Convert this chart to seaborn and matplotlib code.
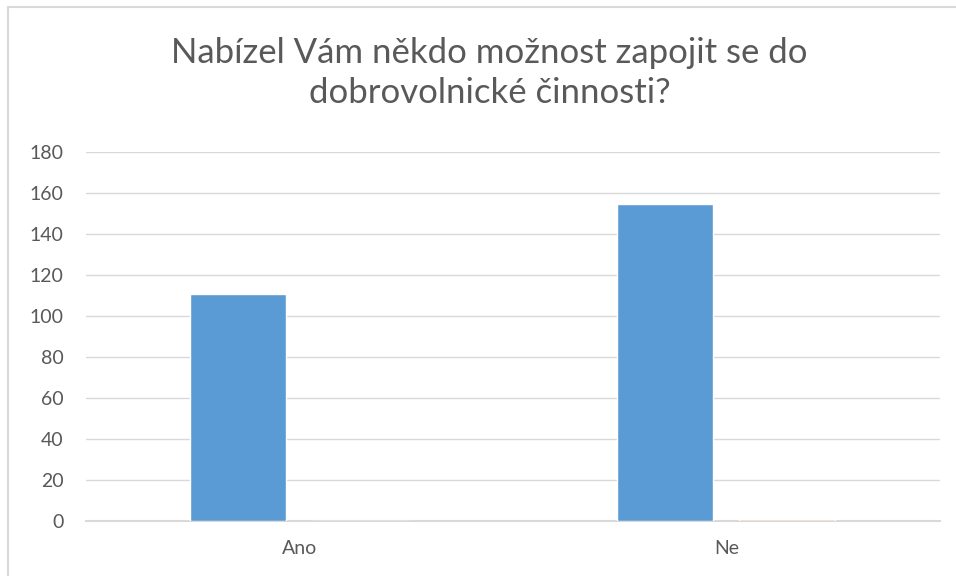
import matplotlib
matplotlib.use("Agg")
import matplotlib.pyplot as plt
import seaborn as sns
import pandas as pd
from matplotlib.patches import Rectangle

categories = ["Ano", "Ne"]
series_names = ["Řada 1", "Řada 2"]
series1 = [111, 155]
series2 = [0, 1]
yticks = [0, 20, 40, 60, 80, 100, 120, 140, 160, 180]
title = "Nabízel Vám někdo možnost zapojit se do\ndobrovolnické činnosti?"

df = pd.DataFrame({
    "kategorie": categories * 2,
    "rada": [series_names[0]] * 2 + [series_names[1]] * 2,
    "hodnota": series1 + series2,
})

sns.set_theme(style="white")
plt.rcParams["font.family"] = ["Lato", "DejaVu Sans"]

fig = plt.figure(figsize=(9.56, 5.76), dpi=100)
ax = fig.add_axes([0.09, 0.0955, 0.893, 0.640])

sns.barplot(data=df, x="kategorie", y="hodnota", hue="rada", order=categories,
            hue_order=series_names, palette=["#5B9BD5", "#F8CBAD"],
            width=0.572, gap=0.213, saturation=1, legend=False, ax=ax)
for p in ax.patches:
    p.set_zorder(3)

ax.set_ylim(0, 180)
ax.set_yticks(yticks)
ax.set_yticklabels([str(t) for t in yticks])
ax.set_xlim(-0.5, 1.5)
ax.yaxis.grid(True, color="#D9D9D9", linewidth=1)
ax.set_axisbelow(True)
for s in ["left", "right", "top"]:
    ax.spines[s].set_visible(False)
ax.spines["bottom"].set_color("#D9D9D9")
ax.spines["bottom"].set_linewidth(1.5)
ax.spines["bottom"].set_zorder(2)
ax.tick_params(axis="both", length=0, labelsize=14, colors="#595959")
ax.tick_params(axis="y", pad=16)
ax.tick_params(axis="x", pad=14)
ax.set_xlabel("")
ax.set_ylabel("")

fig.text(0.512, 0.873, title, ha="center", va="center", fontsize=25,
         color="#595959", linespacing=1.3)

fig.patches.append(Rectangle((0.0088, -0.05), 1.2, 0.05 + 0.987, transform=fig.transFigure,
                             fill=False, edgecolor="#D9D9D9", linewidth=1.5))

fig.savefig("out.png", dpi=100)
